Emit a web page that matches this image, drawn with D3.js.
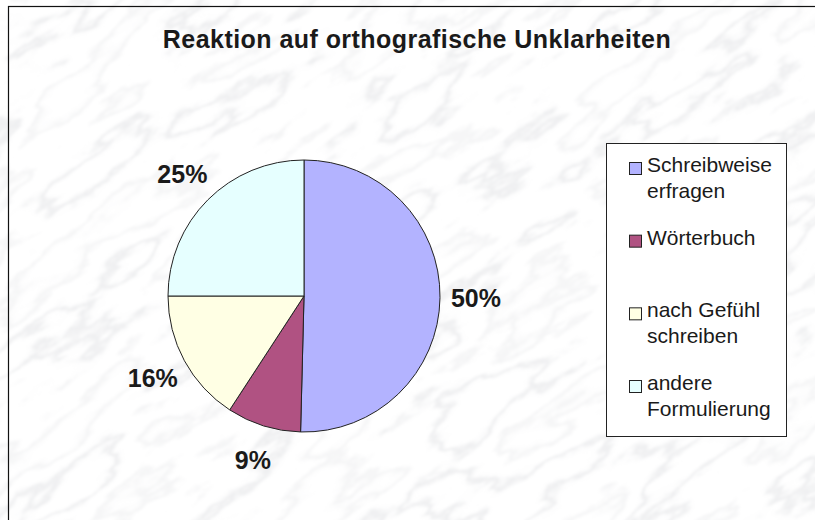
<!DOCTYPE html>
<html>
<head>
<meta charset="utf-8">
<script src="https://cdn.jsdelivr.net/npm/d3@7"></script>
<style>
    body { margin: 0; background: #fff; }
    text { font-family: "Liberation Sans", Arial, sans-serif; fill: #1a1a1a; }
</style>
</head>
<body>
<script>
// Chart data
var categories = ["Schreibweise erfragen", "Wörterbuch",
                  "nach Gefühl schreiben", "andere Formulierung"];
var legendLines = [["Schreibweise", "erfragen"], ["Wörterbuch"],
                   ["nach Gefühl", "schreiben"], ["andere", "Formulierung"]];
var shares = [50.4, 8.8, 15.8, 25.0];
var colors = ["#b3b3ff", "#b05282", "#ffffe4", "#e6ffff"];
var title = "Reaktion auf orthografische Unklarheiten";

var width = 815, height = 520;
var cx = 304, cy = 296, radius = 136;

var svg = d3.select("body").append("svg")
    .attr("width", width)
    .attr("height", height);

// Marble-like background: thin grey veins from a turbulence filter
var defs = svg.append("defs");
var filter = defs.append("filter")
    .attr("id", "marble")
    .attr("filterUnits", "userSpaceOnUse")
    .attr("x", -400).attr("y", -400)
    .attr("width", 1600).attr("height", 1400);
filter.append("feTurbulence")
    .attr("type", "fractalNoise")
    .attr("baseFrequency", "0.007 0.02")
    .attr("numOctaves", 6)
    .attr("seed", 11)
    .attr("result", "noise");
filter.append("feColorMatrix")
    .attr("in", "noise")
    .attr("type", "matrix")
    .attr("values", "0 0 0 0 0.55  0 0 0 0 0.56  0 0 0 0 0.6  " +
                    "1 0 0 0 0")
    .attr("result", "grey");
var ct = filter.append("feComponentTransfer")
    .attr("in", "grey")
    .attr("result", "veins");
ct.append("feFuncA")
    .attr("type", "table")
    .attr("tableValues",
          "0 0 0 0 0 0 0.03 0.32 0.03 0 0 0 0.2 0.04 0 0 0 0 0 0");
filter.append("feGaussianBlur")
    .attr("in", "veins")
    .attr("stdDeviation", 0.8)
    .attr("result", "soft");
filter.append("feComposite")
    .attr("in", "soft")
    .attr("in2", "SourceGraphic")
    .attr("operator", "over");

svg.append("rect")
    .attr("x", -400).attr("y", -400)
    .attr("width", 1600).attr("height", 1400)
    .attr("fill", "#ffffff")
    .attr("filter", "url(#marble)")
    .attr("transform", "rotate(-32 407 260)");

// Chart frame, running off the right and bottom edges
svg.append("rect")
    .attr("x", 8.5).attr("y", 6.5)
    .attr("width", 830).attr("height", 530)
    .attr("fill", "none")
    .attr("stroke", "#111")
    .attr("stroke-width", 1.2);

svg.append("text")
    .attr("x", 417).attr("y", 48)
    .attr("text-anchor", "middle")
    .style("font-size", "25px")
    .style("font-weight", "bold")
    .style("letter-spacing", "0.45px")
    .text(title);

// Pie, starting at 12 o'clock and running clockwise
var pie = d3.pie().sort(null).value(function(d) { return d; });
var arcs = pie(shares);
var arc = d3.arc().innerRadius(0).outerRadius(radius);
var labelArc = d3.arc().innerRadius(172).outerRadius(172);

var g = svg.append("g")
    .attr("transform", "translate(" + cx + "," + cy + ")");

g.selectAll("path")
    .data(arcs)
    .enter().append("path")
    .attr("d", arc)
    .attr("fill", function(d, i) { return colors[i]; })
    .attr("stroke", "#222")
    .attr("stroke-width", 1);

g.selectAll("text.pct")
    .data(arcs)
    .enter().append("text")
    .attr("class", "pct")
    .attr("transform", function(d) {
        return "translate(" + labelArc.centroid(d) + ")";
    })
    .attr("text-anchor", "middle")
    .attr("dy", "0.36em")
    .style("font-size", "25px")
    .style("font-weight", "bold")
    .text(function(d) { return Math.round(d.value) + "%"; });

// Legend
var legend = svg.append("g");
legend.append("rect")
    .attr("x", 606.5).attr("y", 143.5)
    .attr("width", 180).attr("height", 293)
    .attr("fill", "#fff")
    .attr("stroke", "#222")
    .attr("stroke-width", 1);

var itemY = d3.scalePoint()
    .domain(categories)
    .range([168, 386]);

var items = legend.selectAll("g.item")
    .data(categories)
    .enter().append("g")
    .attr("class", "item")
    .attr("transform", function(d) {
        return "translate(0," + itemY(d) + ")";
    });

items.append("rect")
    .attr("x", 629.5).attr("y", -5.5)
    .attr("width", 12).attr("height", 12)
    .attr("fill", function(d, i) { return colors[i]; })
    .attr("stroke", "#222")
    .attr("stroke-width", 1);

items.each(function(d, i) {
    var t = d3.select(this).append("text")
        .attr("x", 647)
        .attr("y", 4)
        .attr("dy", "0.36em")
        .style("font-size", "21px");
    t.selectAll("tspan")
        .data(legendLines[i])
        .enter().append("tspan")
        .attr("x", 647)
        .attr("dy", function(s, j) { return j ? 26 : 0; })
        .text(function(s) { return s; });
});
</script>
</body>
</html>
